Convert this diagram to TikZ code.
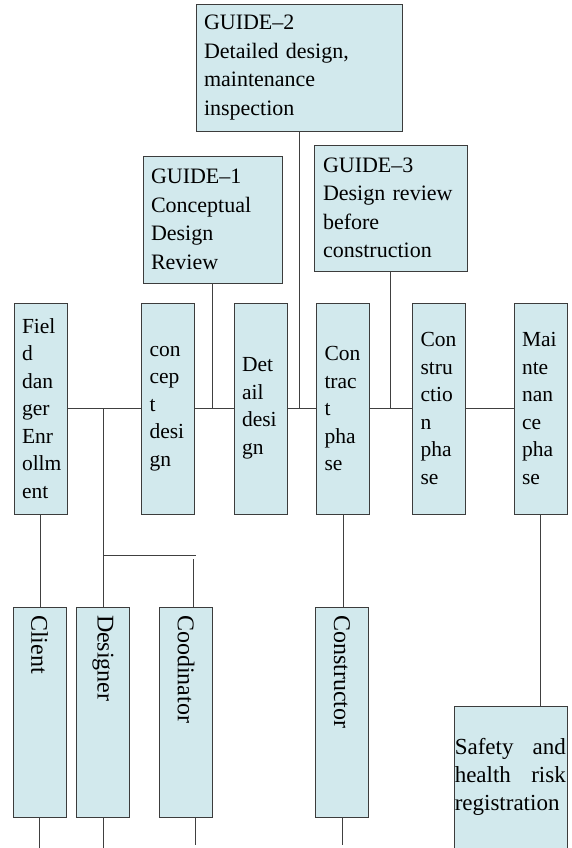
\documentclass[tikz,border=0pt]{standalone}
\usepackage{fontspec}
\setmainfont{Liberation Serif}
\usetikzlibrary{positioning}
\definecolor{boxfill}{RGB}{210,233,237}
\definecolor{boxline}{RGB}{60,60,60}
\tikzset{
  phase/.style={draw=boxline, fill=boxfill, line width=0.9pt, text width=37pt, inner xsep=8pt, inner ysep=0pt, minimum height=211pt, align=left, font=\fontsize{21.5}{27.5}\selectfont},
  guide/.style={draw=boxline, fill=boxfill, line width=0.9pt, inner xsep=8pt, inner ysep=0pt, minimum height=127pt, align=left, font=\fontsize{22}{28.5}\selectfont},
  role/.style={draw=boxline, fill=boxfill, line width=0.9pt, rotate=-90, text width=194pt, inner xsep=8pt, inner ysep=0pt, minimum height=53pt, align=left, font=\fontsize{24}{28}\selectfont},
  link/.style={draw=black!75, line width=0.9pt}
}
\begin{document}
\begin{tikzpicture}[x=1pt,y=-1pt]
    \useasboundingbox (0,0) rectangle (572,848);
    \clip (0,0) rectangle (572,848);
    % guides
    \node[guide, text width=190pt] (g2) at (299,67.5) {GUIDE--2\\Detailed design,\\maintenance\\inspection};
    \node[guide, text width=123pt] (g1) at (212.5,219.5) {GUIDE--1\\Conceptual\\Design\\Review};
    \node[guide, text width=135pt, inner xsep=9pt, minimum height=126pt] (g3) at (390.5,208) {GUIDE--3\\Design review\\before\\construction};
    % phases
    \node[phase] (field) at (40.5,408.5) {Fiel\\d\\dan\\ger\\Enr\\ollm\\ent};
    \node[phase] (concept) at (168,408.5) {con\\cep\\t\\desi\\gn};
    \node[phase] (detail) at (260.5,408.5) {Det\\ail\\desi\\gn};
    \node[phase] (contract) at (343,408.5) {Con\\trac\\t\\pha\\se};
    \node[phase] (constr) at (439,408.5) {Con\\stru\\ctio\\n\\pha\\se};
    \node[phase] (maint) at (540.5,408.5) {Mai\\nte\\nan\\ce\\pha\\se};
    % roles
    \node[role] (client) at (39.5,712) {Client};
    \node[role] (designer) at (103,712) {Designer};
    \node[role] (cood) at (186,712) {Coodinator};
    \node[role] (cons) at (342,712) {Constructor};
    \node[draw=boxline, fill=boxfill, line width=0.9pt, minimum width=113pt, minimum height=170pt, anchor=north] (safe) at (510.5,706) {};
    \node[anchor=north west, text width=111pt, inner sep=0pt, align=left, font=\fontsize{23}{28}\selectfont] (safetxt) at ([xshift=1pt,yshift=-32pt]safe.north west) {Safety\hfill and\\health\hfill risk\\registration};
    % main line
    \draw[link] (field.east) -- (concept.west);
    \draw[link] (concept.east) -- (detail.west);
    \draw[link] (detail.east) -- (contract.west);
    \draw[link] (contract.east) -- (constr.west);
    \draw[link] (constr.east) -- (maint.west);
    \draw[link] (g1.south) -- (g1.south |- concept.east);
    \draw[link] (g2.south) -- (g2.south |- detail.east);
    \draw[link] (g3.south) -- (g3.south |- constr.west);
    % down to roles
    \draw[link] (field.south) -- (field.south |- client.west);
    \draw[link] (designer.west |- field.east) -- (designer.west);
    \coordinate (fork) at (103,555);
    \coordinate (forkend) at (196,555);
    \coordinate (coodjoin) at (193,559);
    \draw[link] (fork) -- (forkend);
    \draw[link] (coodjoin) -- (coodjoin |- cood.west);
    \draw[link] (contract.south) -- (contract.south |- cons.west);
    \draw[link] (maint.south) -- (maint.south |- safe.north);
    % stubs
    \coordinate (edge) at (0,848);
    \draw[link] (client.east) -- (client.east |- edge);
    \draw[link] (designer.east) -- (designer.east |- edge);
    \coordinate (coodlow) at ([xshift=9pt]cood.east);
    \draw[link] (coodlow) -- ++(0,28);
    \draw[link] (cons.east) -- ++(0,28);
\end{tikzpicture}
\end{document}
